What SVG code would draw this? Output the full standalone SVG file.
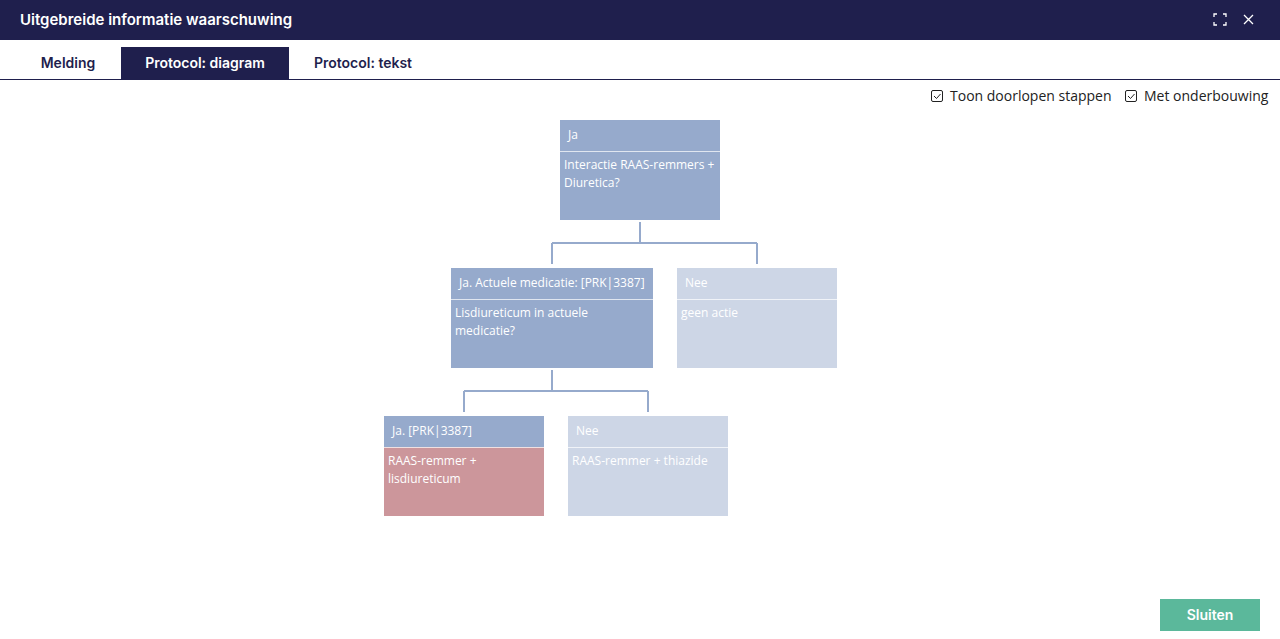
<svg xmlns="http://www.w3.org/2000/svg" width="1280" height="639" viewBox="0 0 1280 639">
<style>
.t{font-family:"Open Sans","Noto Sans",sans-serif;font-size:12px;fill:#fff}
.h{font-family:"Inter","Liberation Sans",sans-serif;font-weight:600}
.c{fill:none;stroke:#96aacc;stroke-width:2}
.d{fill:#96aacc}.l{fill:#cdd6e6}.r{fill:#cc969b}
.sep{stroke:#fff;stroke-opacity:.7;stroke-width:1}
</style>
<rect width="1280" height="639" fill="#fff"/>
<rect width="1280" height="40" fill="#1f1f4d"/>
<text x="20" y="25" class="h" font-size="15" fill="#fff">Uitgebreide informatie waarschuwing</text>
<g fill="none" stroke="#fff" stroke-width="1.3"><path d="M1214 17v-3h3M1223 14h3v3M1226 22v3h-3M1217 25h-3v-3"/><path d="M1244 15l9 9M1253 15l-9 9"/></g>
<rect x="121" y="47" width="168" height="32" fill="#1f1f4d"/>
<line x1="0" y1="79.5" x2="1280" y2="79.5" stroke="#1f1f4d"/>
<text x="68" y="68" class="h" font-size="14" fill="#1f1f4d" text-anchor="middle">Melding</text>
<text x="205" y="68" class="h" font-size="14" fill="#fff" text-anchor="middle">Protocol: diagram</text>
<text x="363" y="68" class="h" font-size="14" fill="#1f1f4d" text-anchor="middle">Protocol: tekst</text>
<g font-family="Open Sans,sans-serif" font-size="14" fill="#222">
<rect x="931.5" y="90.5" width="11" height="11" rx="1.5" fill="none" stroke="#222"/><path d="M934 96l2.5 2.5 4-4.5" fill="none" stroke="#222"/>
<text x="950" y="101">Toon doorlopen stappen</text>
<rect x="1125.5" y="90.5" width="11" height="11" rx="1.5" fill="none" stroke="#222"/><path d="M1128 96l2.5 2.5 4-4.5" fill="none" stroke="#222"/>
<text x="1144" y="101">Met onderbouwing</text>
</g>
<g id="connectors">
<path class="c" d="M640 222V243M552 243H757M552 243V264M757 243V264"/>
<path class="c" d="M552 370V391M464 391H648M464 391V412M648 391V412"/>
</g>
<g id="n1"><rect x="560" y="120" width="160" height="100" class="d"/><line x1="560" y1="151.5" x2="720" y2="151.5" class="sep"/>
<text x="568" y="139" class="t">Ja</text><text x="564" y="169" class="t">Interactie RAAS-remmers +</text><text x="564" y="187" class="t">Diuretica?</text></g>
<g id="n2"><rect x="451" y="268" width="202" height="100" class="d"/><line x1="451" y1="299.5" x2="653" y2="299.5" class="sep"/>
<text x="459" y="287" class="t">Ja. Actuele medicatie: [PRK|3387]</text><text x="455" y="317" class="t">Lisdiureticum in actuele</text><text x="455" y="335" class="t">medicatie?</text></g>
<g id="n3"><rect x="677" y="268" width="160" height="100" class="l"/><line x1="677" y1="299.5" x2="837" y2="299.5" class="sep"/>
<text x="685" y="287" class="t">Nee</text><text x="681" y="317" class="t">geen actie</text></g>
<g id="n4"><rect x="384" y="416" width="160" height="31" class="d"/><rect x="384" y="447" width="160" height="69" class="r"/><line x1="384" y1="447.5" x2="544" y2="447.5" class="sep"/>
<text x="392" y="435" class="t">Ja. [PRK|3387]</text><text x="388" y="465" class="t">RAAS-remmer +</text><text x="388" y="483" class="t">lisdiureticum</text></g>
<g id="n5"><rect x="568" y="416" width="160" height="100" class="l"/><line x1="568" y1="447.5" x2="728" y2="447.5" class="sep"/>
<text x="576" y="435" class="t">Nee</text><text x="572" y="465" class="t">RAAS-remmer + thiazide</text></g>
<rect x="1160" y="599" width="100" height="32" fill="#5bb89b"/>
<text x="1210" y="620" class="h" font-size="14" fill="#fff" text-anchor="middle">Sluiten</text>
</svg>
